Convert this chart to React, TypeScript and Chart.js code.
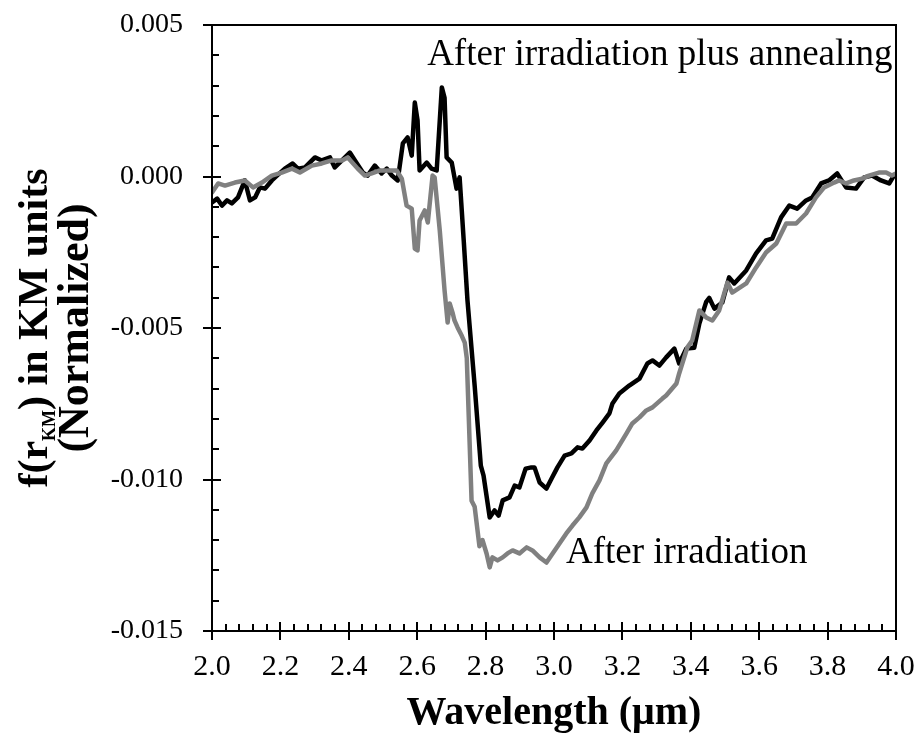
import React, { useEffect, useRef } from "react";
import { Chart, registerables } from "chart.js";

Chart.register(...registerables);

// Wavelength (µm) and f(r_KM) values for the "After irradiation" spectrum (grey)
const irradiatedWavelength = [
  2.0, 2.018, 2.038, 2.067, 2.096, 2.12, 2.146, 2.175, 2.204, 2.234, 2.257, 2.292, 2.321, 2.35, 2.38, 2.397,
  2.426, 2.447, 2.467, 2.491, 2.514, 2.54, 2.555, 2.569, 2.584, 2.593, 2.601, 2.607, 2.622, 2.631, 2.645, 2.651,
  2.666, 2.68, 2.689, 2.695, 2.704, 2.709, 2.718, 2.73, 2.739, 2.745, 2.759, 2.768, 2.782, 2.791, 2.803, 2.812,
  2.82, 2.835, 2.85, 2.864, 2.879, 2.899, 2.92, 2.937, 2.958, 2.978, 2.996, 3.016, 3.036, 3.054, 3.074, 3.095,
  3.112, 3.133, 3.153, 3.182, 3.212, 3.229, 3.25, 3.27, 3.288, 3.317, 3.328, 3.358, 3.366, 3.39, 3.404, 3.425,
  3.445, 3.463, 3.483, 3.507, 3.521, 3.562, 3.591, 3.62, 3.65, 3.679, 3.708, 3.737, 3.766, 3.79, 3.819, 3.834,
  3.854, 3.877, 3.901, 3.921, 3.95, 3.971, 3.988, 4.0,
];
const irradiatedValues = [
  -0.00053, -0.00023, -0.0003, -0.0002, -0.00013, -0.00036, -0.0002, 0.00003, 0.00013, 0.00026, 0.00013, 0.00036,
  0.00043, 0.00053, 0.00053, 0.00063, 0.00026, 0.00003, 0.0001, 0.0002, 0.0002, 0.0002, -0.00007, -0.00096,
  -0.00106, -0.00238, -0.00244, -0.00145, -0.00112, -0.00152, 0.00003, -0.00003, -0.00178, -0.00376, -0.00482,
  -0.00419, -0.00452, -0.00475, -0.00498, -0.00525, -0.00548, -0.006, -0.0107, -0.0109, -0.0122, -0.012, -0.01245,
  -0.0129, -0.01257, -0.01267, -0.01257, -0.01244, -0.01234, -0.01244, -0.01224, -0.01234, -0.01257, -0.01274,
  -0.01244, -0.01211, -0.01178, -0.01152, -0.01125, -0.01092, -0.01046, -0.01003, -0.00947, -0.00904, -0.00848,
  -0.00815, -0.00795, -0.00772, -0.00762, -0.00733, -0.00723, -0.00683, -0.0065, -0.00564, -0.00541, -0.00442,
  -0.00465, -0.00475, -0.00442, -0.0035, -0.00383, -0.00353, -0.003, -0.00251, -0.00221, -0.00155, -0.00155,
  -0.00122, -0.00069, -0.00036, -0.0002, -0.00013, -0.00023, -0.00013, -0.00007, 0.00003, 0.00013, 0.00013,
  0.00003, 0.0001,
];

// Wavelength (µm) and f(r_KM) values for the "After irradiation plus annealing" spectrum (black)
const annealedWavelength = [
  2.0, 2.015, 2.029, 2.044, 2.058, 2.076, 2.096, 2.111, 2.126, 2.14, 2.155, 2.175, 2.19, 2.213, 2.236, 2.251,
  2.272, 2.301, 2.321, 2.345, 2.359, 2.38, 2.403, 2.418, 2.441, 2.455, 2.476, 2.496, 2.511, 2.526, 2.543, 2.558,
  2.572, 2.584, 2.593, 2.601, 2.607, 2.628, 2.642, 2.657, 2.672, 2.68, 2.686, 2.701, 2.715, 2.724, 2.736, 2.747,
  2.768, 2.786, 2.794, 2.812, 2.826, 2.838, 2.85, 2.87, 2.885, 2.899, 2.917, 2.934, 2.943, 2.958, 2.978, 2.993,
  3.01, 3.031, 3.051, 3.069, 3.083, 3.104, 3.124, 3.142, 3.162, 3.171, 3.191, 3.22, 3.25, 3.273, 3.288, 3.308,
  3.328, 3.352, 3.366, 3.387, 3.41, 3.425, 3.445, 3.454, 3.469, 3.492, 3.512, 3.527, 3.562, 3.591, 3.62, 3.638,
  3.664, 3.688, 3.711, 3.737, 3.755, 3.781, 3.804, 3.828, 3.854, 3.883, 3.907, 3.93, 3.956, 3.98, 3.994, 4.0,
];
const annealedValues = [
  -0.00086, -0.00073, -0.00096, -0.00079, -0.00089, -0.00069, -0.00013, -0.00079, -0.00069, -0.00036, -0.0004,
  -0.00013, 0.00003, 0.00026, 0.00043, 0.00026, 0.0003, 0.00063, 0.00053, 0.00063, 0.0003, 0.00053, 0.00079,
  0.00053, 0.00013, 0.00003, 0.00036, 0.0001, 0.00026, 0.00003, -0.00013, 0.00109, 0.00129, 0.00069, 0.00244,
  0.00185, 0.0002, 0.00046, 0.00026, 0.0002, 0.00294, 0.0026, 0.00063, 0.00046, -0.0004, -0.00003, -0.00211,
  -0.00409, -0.0069, -0.00954, -0.00987, -0.01125, -0.01102, -0.01119, -0.01069, -0.01059, -0.0102, -0.01026,
  -0.00964, -0.0096, -0.0096, -0.0101, -0.0103, -0.00997, -0.0096, -0.00921, -0.00914, -0.00894, -0.00898,
  -0.00871, -0.00838, -0.00812, -0.00782, -0.00749, -0.00716, -0.0069, -0.00667, -0.00617, -0.00607, -0.00624,
  -0.00597, -0.00568, -0.00617, -0.00568, -0.00565, -0.00485, -0.00414, -0.00401, -0.00436, -0.00416, -0.00333,
  -0.00353, -0.0031, -0.00254, -0.00211, -0.00205, -0.00135, -0.00096, -0.00106, -0.00079, -0.00069, -0.00023,
  -0.00013, 0.0001, -0.00036, -0.0004, -0.00003, 0.00003, -0.00013, -0.00023, 0.00003, 0.00003,
];

const xMin = 2.0;
const xMax = 4.0;
const xMajorStep = 0.2;
const xMinorStep = 0.04;
const yMin = -0.015;
const yMax = 0.005;
const yMajorStep = 0.005;
const yMinorStep = 0.001;

const xTitle = "Wavelength (\u03bcm)";
const yTitleMain = "f(r";
const yTitleSub = "KM";
const yTitleRest = ") in KM units";
const yTitleLine2 = "(Normalized)";
const annealedLabel = "After irradiation plus annealing";
const irradiatedLabel = "After irradiation";
// label anchor points in data units
const annealedLabelAt = { x: 3.99, y: 0.004 };
const irradiatedLabelAt = { x: 3.035, y: -0.01245 };

const SERIF = "'Liberation Serif', 'Times New Roman', serif";

const decorPlugin = {
  id: "decor",
  afterDraw(chart: any) {
    const ctx = chart.ctx;
    const xs = chart.scales.x;
    const ys = chart.scales.y;
    const a = chart.chartArea;
    ctx.save();
    ctx.strokeStyle = "#000";
    ctx.lineWidth = 2;
    ctx.lineCap = "butt";
    // frame
    ctx.beginPath();
    ctx.moveTo(a.left, a.top);
    ctx.lineTo(a.right, a.top);
    ctx.lineTo(a.right, a.bottom);
    ctx.lineTo(a.left, a.bottom);
    ctx.closePath();
    ctx.stroke();
    // y ticks
    const nyMinor = Math.round((yMax - yMin) / yMinorStep);
    for (let i = 0; i <= nyMinor; i++) {
      const v = yMin + i * yMinorStep;
      const py = Math.round(ys.getPixelForValue(v));
      const major = i % Math.round(yMajorStep / yMinorStep) === 0;
      ctx.beginPath();
      ctx.moveTo(major ? a.left - 9 : a.left, py);
      ctx.lineTo(major ? a.left + 9 : a.left + 7, py);
      ctx.stroke();
    }
    // x ticks
    const nxMinor = Math.round((xMax - xMin) / xMinorStep);
    for (let i = 0; i <= nxMinor; i++) {
      const v = xMin + i * xMinorStep;
      const px = Math.round(xs.getPixelForValue(v));
      const major = i % Math.round(xMajorStep / xMinorStep) === 0;
      ctx.beginPath();
      ctx.moveTo(px, major ? a.bottom + 9 : a.bottom);
      ctx.lineTo(px, major ? a.bottom - 9 : a.bottom - 7);
      ctx.stroke();
    }
    // annotations
    ctx.fillStyle = "#000";
    ctx.font = `37px ${SERIF}`;
    ctx.textBaseline = "middle";
    ctx.textAlign = "right";
    ctx.fillText(annealedLabel, xs.getPixelForValue(annealedLabelAt.x), ys.getPixelForValue(annealedLabelAt.y));
    ctx.textAlign = "left";
    ctx.fillText(irradiatedLabel, xs.getPixelForValue(irradiatedLabelAt.x), ys.getPixelForValue(irradiatedLabelAt.y));
    // x title
    ctx.font = `bold 40px ${SERIF}`;
    ctx.textAlign = "center";
    ctx.fillText(xTitle, (a.left + a.right) / 2, 714);
    // y title (rotated, with subscript)
    const cy = (a.top + a.bottom) / 2;
    ctx.save();
    ctx.translate(33, cy);
    ctx.rotate(-Math.PI / 2);
    const mainFont = `bold 42px ${SERIF}`;
    const subFont = `bold 18px ${SERIF}`;
    ctx.font = mainFont;
    const w1 = ctx.measureText(yTitleMain).width;
    const w3 = ctx.measureText(yTitleRest).width;
    ctx.font = subFont;
    const w2 = ctx.measureText(yTitleSub).width;
    let sx = -(w1 + w2 + w3) / 2;
    ctx.textAlign = "left";
    ctx.textBaseline = "alphabetic";
    const base = 14;
    ctx.font = mainFont;
    ctx.fillText(yTitleMain, sx, base);
    sx += w1;
    ctx.font = subFont;
    ctx.fillText(yTitleSub, sx, base + 8);
    sx += w2;
    ctx.font = mainFont;
    ctx.fillText(yTitleRest, sx, base);
    ctx.restore();
    ctx.save();
    ctx.translate(77, cy);
    ctx.rotate(-Math.PI / 2);
    ctx.font = `bold 44px ${SERIF}`;
    ctx.textAlign = "center";
    ctx.textBaseline = "middle";
    ctx.fillText(yTitleLine2, 0, 0);
    ctx.restore();
    ctx.restore();
  },
};

export default function App() {
  const ref = useRef<HTMLCanvasElement | null>(null);
  useEffect(() => {
    document.body.style.margin = "0";
    const canvas = ref.current;
    if (!canvas) return;
    const chart = new Chart(canvas, {
      type: "line",
      data: {
        datasets: [
          {
            label: irradiatedLabel,
            data: irradiatedWavelength.map((x, i) => ({ x, y: irradiatedValues[i] })),
            borderColor: "#808080",
            borderWidth: 4.5,
            pointRadius: 0,
            tension: 0,
            borderJoinStyle: "round",
            borderCapStyle: "round",
          },
          {
            label: annealedLabel,
            data: annealedWavelength.map((x, i) => ({ x, y: annealedValues[i] })),
            borderColor: "#000000",
            borderWidth: 4.5,
            pointRadius: 0,
            tension: 0,
            borderJoinStyle: "round",
            borderCapStyle: "round",
          },
        ],
      },
      options: {
        responsive: false,
        animation: false,
        devicePixelRatio: 1,
        layout: { padding: { top: 25, right: 23, left: 0, bottom: 0 } },
        plugins: { legend: { display: false }, tooltip: { enabled: false }, title: { display: false } },
        scales: {
          x: {
            type: "linear",
            min: xMin,
            max: xMax,
            grid: { display: false, drawTicks: false },
            border: { display: false },
            ticks: {
              stepSize: xMajorStep,
              padding: 18,
              color: "#000",
              font: { family: SERIF, size: 30 },
              maxRotation: 0,
              callback: (v: any) => Number(v).toFixed(1),
            },
            afterFit: (s: any) => {
              s.height = 120;
              s.paddingLeft = 0;
              s.paddingRight = 0;
              s.paddingTop = 0;
              s.paddingBottom = 0;
            },
          },
          y: {
            type: "linear",
            min: yMin,
            max: yMax,
            grid: { display: false, drawTicks: false },
            border: { display: false },
            ticks: {
              stepSize: yMajorStep,
              padding: 29,
              color: "#000",
              font: { family: SERIF, size: 28 },
              callback: (v: any) => Number(v).toFixed(3),
            },
            afterFit: (s: any) => {
              s.width = 212;
              s.paddingLeft = 0;
              s.paddingRight = 0;
              s.paddingTop = 0;
              s.paddingBottom = 0;
            },
          },
        },
      },
      plugins: [decorPlugin],
    });
    return () => chart.destroy();
  }, []);
  return <canvas ref={ref} width={919} height={751} style={{ display: "block" }} />;
}
